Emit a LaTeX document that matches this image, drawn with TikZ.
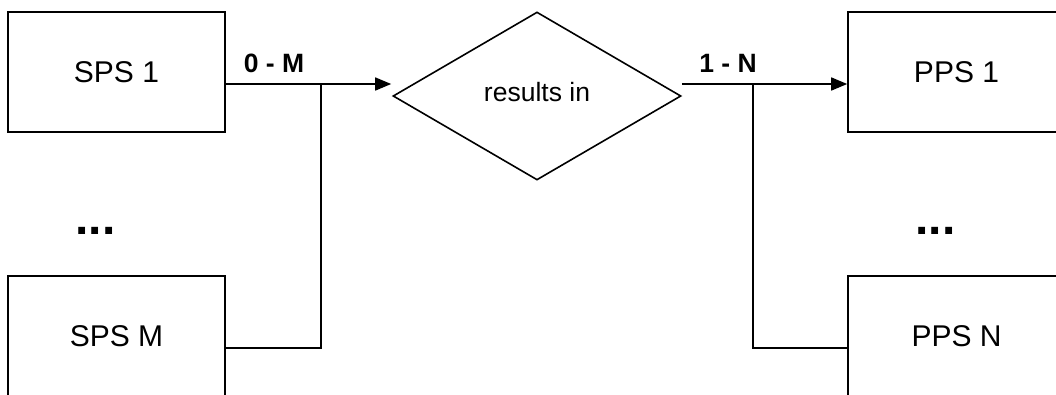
\documentclass[tikz,border=0pt]{standalone}
\usepackage{fontspec}
\setmainfont{Liberation Sans}
\usetikzlibrary{arrows.meta,shapes.geometric}
\begin{document}
\begin{tikzpicture}[x=1pt,y=-1pt,
  line width=1.6pt,
  ent/.style={draw,rectangle,minimum width=217pt,minimum height=120pt,inner sep=0pt,font=\fontsize{30}{33}\selectfont},
  rel/.style={draw,diamond,minimum width=288pt,minimum height=168pt,inner sep=0pt},
  card/.style={font=\fontsize{26.5}{30}\selectfont\bfseries,inner sep=0pt},
  dots/.style={font=\fontsize{48}{50}\selectfont\bfseries,inner sep=0pt},
  arr/.style={-{Triangle[length=16pt,width=13pt]}}]
\useasboundingbox (0,0) rectangle (1056,394);
\clip (0,0) rectangle (1056,394);
\fill[white] (0,0) rectangle (1056,394);
\node[ent] (s1) at (116.5,72) {SPS 1};
\node[ent] (sm) at (116.5,336) {SPS M};
\node[ent] (p1) at (956.5,72) {PPS 1};
\node[ent] (pn) at (956.5,336) {PPS N};
\node[rel,label={[font=\fontsize{26.5}{30}\selectfont,inner sep=0pt]center:{\raisebox{8pt}{results in}}}] (ri) at (537,96) {};
\node[dots] (dl) at (95.5,231) {...};
\node[dots] (dr) at (935.5,231) {...};
\coordinate (s1o) at ([yshift=-12pt]s1.east);
\coordinate (smo) at ([yshift=-12pt]sm.east);
\coordinate (p1i) at ([yshift=-12pt]p1.west);
\coordinate (pni) at ([yshift=-12pt]pn.west);
\coordinate (ain) at ([xshift=-1pt]ri.west |- s1o);
\coordinate (aout) at (ri.east |- p1i);
\coordinate (jl) at (321,84);
\coordinate (jr) at (753,84);
\draw[arr] (s1o) -- (ain);
\draw (jl) |- (smo);
\draw[arr] (aout) -- (p1i);
\draw (jr) |- (pni);
\node[card] (lm) at (274,63) {0 - M};
\node[card] (ln) at (728,63) {1 - N};
\end{tikzpicture}
\end{document}
